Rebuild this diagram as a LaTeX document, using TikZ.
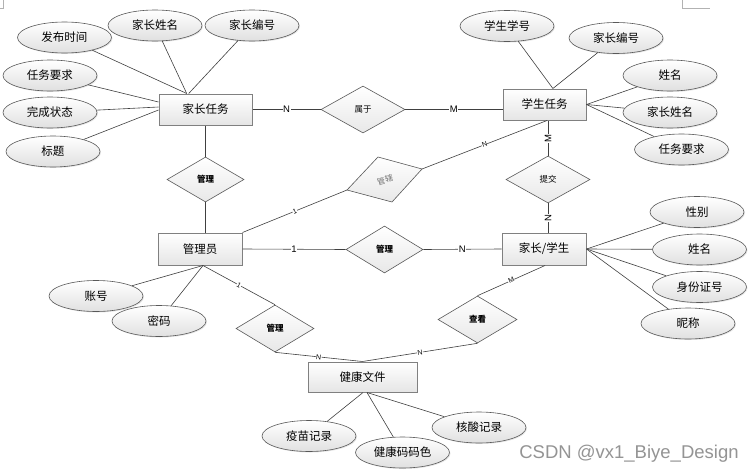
\documentclass[tikz,border=0pt]{standalone}
\usepackage{fontspec}
\setmainfont{Noto Sans CJK SC}
\newfontfamily\latinfont{Liberation Sans}
\usetikzlibrary{shapes.geometric,shadows,calc}
\begin{document}
\begin{tikzpicture}[x=1pt,y=-1pt,
  ln/.style={draw=black!75,line width=0.6pt},
  entbox/.style={rectangle,draw=black!50,line width=1pt,top color=white,bottom color=black!10,inner sep=0pt,
    font=\fontsize{11.5}{13}\selectfont,drop shadow={shadow xshift=1.2pt,shadow yshift=-1.2pt,opacity=0.25}},
  attr/.style={ellipse,draw=black!65,line width=0.6pt,top color=white,bottom color=black!12,
    minimum width=94pt,minimum height=31pt,inner sep=0pt,font=\fontsize{11.5}{13}\selectfont,
    drop shadow={shadow xshift=1pt,shadow yshift=-1pt,opacity=0.2}},
  rel/.style={diamond,draw=black!65,line width=0.6pt,top color=white,bottom color=black!9,inner sep=0pt,
    font=\fontsize{8.5}{9}\selectfont},
  lab/.style={fill=white,inner sep=0.6pt,font=\latinfont\fontsize{9.5}{10}\selectfont},
  slab/.style={fill=white,inner sep=0.3pt,sloped,font=\latinfont\fontsize{7}{7}\selectfont},
  cropmk/.style={draw=black!30,line width=0.5pt}
]
\useasboundingbox (0,0) rectangle (750,474);
\fill[white] (0,0) rectangle (750,474);
\coordinate (m1) at (3,0); \coordinate (m2) at (3,8); \coordinate (m3) at (0,8);
\draw[cropmk] (m1) -- (m2) -- (m3);
\coordinate (m4) at (682,0); \coordinate (m5) at (682,8); \coordinate (m6) at (710,8);
\draw[cropmk] (m4) -- (m5) -- (m6);

% entities
\node[entbox,minimum width=93pt,minimum height=31pt] (jzrw) at (205.5,109.5) {家长任务};
\node[entbox,minimum width=83pt,minimum height=31pt] (xsrw) at (544.5,104.5) {学生任务};
\node[entbox,minimum width=84pt,minimum height=32pt] (gly) at (200,249) {管理员};
\node[entbox,minimum width=84pt,minimum height=32pt] (jzxs) at (544,249) {家长/学生};
\node[entbox,minimum width=109pt,minimum height=30pt] (jkwj) at (362.5,377) {健康文件};

% relationships
\node[rel,minimum width=84pt,minimum height=47pt] (sy) at (363,109.5) {属于};
\node[rel,minimum width=77pt,minimum height=45pt,font=\fontsize{8.5}{9}\selectfont\bfseries] (gl1) at (205.5,179.5) {管理};
\node[rel,minimum width=84pt,minimum height=47pt] (tj) at (548,179.5) {提交};
\node[rel,minimum width=77pt,minimum height=47pt,font=\fontsize{8.5}{9}\selectfont\bfseries] (gl2) at (384.5,249.5) {管理};
\node[rel,minimum width=78pt,minimum height=47pt,font=\fontsize{8.5}{9}\selectfont\bfseries] (gl3) at (275,328.5) {管理};
\node[rel,minimum width=79pt,minimum height=47pt,font=\fontsize{8.5}{9}\selectfont\bfseries] (ck) at (477.5,319.5) {查看};

% tilted diamond
\coordinate (gxT) at (378,157);
\coordinate (gxR) at (422,169);
\coordinate (gxB) at (392,202);
\coordinate (gxL) at (347,190);
\draw[draw=black!65,line width=0.6pt,top color=white,bottom color=black!9] (gxT) -- (gxR) -- (gxB) -- (gxL) -- cycle;
\node[rotate=15,text=black!55,inner sep=0pt,font=\fontsize{8}{8}\selectfont] (gx) at (385,180) {管辖};

% attributes
\node[attr] (a1) at (64.5,37.5) {发布时间};
\node[attr] (a2) at (155,25.5) {家长姓名};
\node[attr] (a3) at (252,25.5) {家长编号};
\node[attr] (a4) at (50,75.5) {任务要求};
\node[attr] (a5) at (50,112.5) {完成状态};
\node[attr] (a6) at (53,151.5) {标题};
\node[attr] (b1) at (507,26) {学生学号};
\node[attr] (b2) at (616,38) {家长编号};
\node[attr] (b3) at (670,75.5) {姓名};
\node[attr] (b4) at (670,112.5) {家长姓名};
\node[attr] (b5) at (681.5,149.5) {任务要求};
\node[attr] (c1) at (697,212) {性别};
\node[attr] (c2) at (699.5,249.5) {姓名};
\node[attr] (c3) at (699.5,287) {身份证号};
\node[attr] (c4) at (688,323.5) {昵称};
\node[attr] (d1) at (96,296) {账号};
\node[attr] (d2) at (159,321) {密码};
\node[attr] (e1) at (309,436) {疫苗记录};
\node[attr] (e2) at (402.5,452.5) {健康码码色};
\node[attr] (e3) at (479,427.5) {核酸记录};

% attachment points
\coordinate (jzT) at ($(jzrw.north west)!0.3!(jzrw.north east)$);
\coordinate (xsT) at ($(xsrw.north west)!0.6!(xsrw.north east)$);
\coordinate (glyB) at ($(gly.south)+(3,0)$);
\coordinate (jzxsB) at ($(jzxs.south)+(1,0)$);
\coordinate (xsB) at ($(xsrw.south)+(2.5,0)$);
\coordinate (jkB1) at ($(jkwj.south)+(0.5,0)$);
\coordinate (jkB2) at ($(jkwj.south)+(4.5,0)$);

% attribute lines
\draw[ln] (a1) -- (jzT);
\draw[ln] (a2) -- (jzT);
\draw[ln] (a3) -- ($(jzT)+(2,0)$);
\draw[ln] (a4) -- ($(jzrw.west)+(0,-7.5)$);
\draw[ln] (a5) -- ($(jzrw.west)+(0,-2.5)$);
\draw[ln] (a6) -- ($(jzrw.west)+(0,0.5)$);
\draw[ln] (b1) -- (xsT);
\draw[ln] (b2) -- (xsT);
\draw[ln] (b3) -- (xsrw.east);
\draw[ln] (b4) -- (xsrw.east);
\draw[ln] (b5) -- (xsrw.east);
\draw[ln] (c1) -- (jzxs.east);
\draw[ln] (c2) -- (jzxs.east);
\draw[ln] (c3) -- (jzxs.east);
\draw[ln] (c4) -- (jzxs.east);
\draw[ln] (d1) -- (glyB);
\draw[ln] (d2) -- (glyB);
\draw[ln] (e1) -- (jkB1);
\draw[ln] (e2) -- (jkB2);
\draw[ln] (e3) -- (jkB2);

% relationship lines
\draw[ln] (jzrw.east) -- (sy.west) node[lab,midway] {N};
\draw[ln] (sy.east) -- (sy.east -| xsrw.west) node[lab,midway] {M};
\draw[ln] (jzrw) -- (gl1);
\draw[ln] (gl1.south) -- (gl1.south |- gly.north);
\draw[ln] (gly.east) -- (gl2.west) node[lab,midway] {1};
\draw[ln] (gl2.east) -- (jzxs.west) node[lab,midway] {N};
\draw[ln] (tj.north) -- (tj.north |- xsrw.south) node[lab,midway,rotate=90] {M};
\draw[ln] (tj.south) -- (tj.south |- jzxs.north) node[lab,midway,rotate=90] {N};
\draw[ln] (gly.north east) -- (gxL) node[slab,midway] {1};
\draw[ln] (gxR) -- (xsB) node[slab,midway] {N};
\draw[ln] (glyB) -- (gl3.north) node[slab,midway] {1};
\draw[ln] (gl3.south) -- (jkwj.north) node[slab,midway] {N};
\draw[ln] (ck.south) -- (jkwj.north) node[slab,midway] {N};
\draw[ln] (ck.north) -- (jzxsB) node[slab,midway] {M};

\node[font=\latinfont\fontsize{18.5}{20}\selectfont,text=black!42] (wm) at (629,454) {CSDN @vx1\_Biye\_Design};
\end{tikzpicture}
\end{document}
